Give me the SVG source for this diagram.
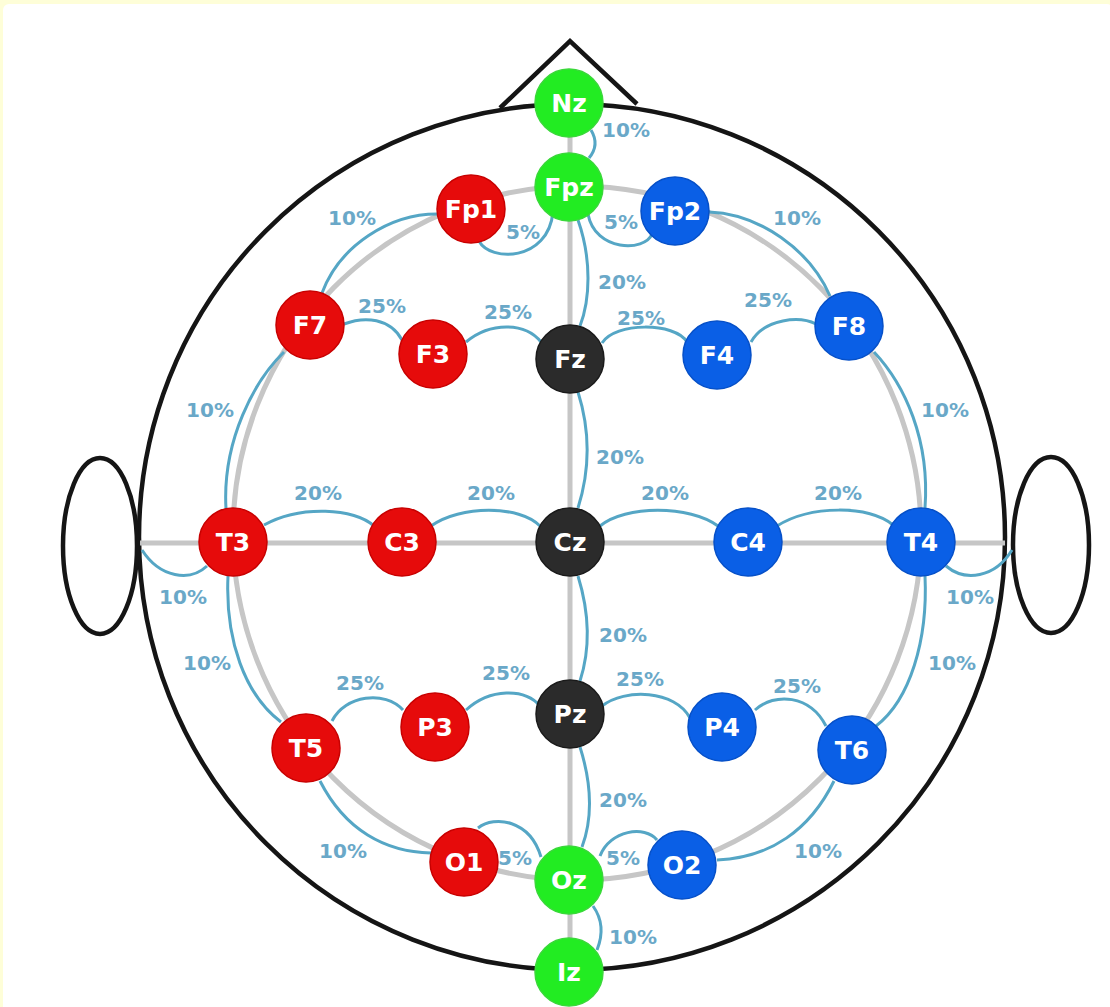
<svg xmlns="http://www.w3.org/2000/svg" width="1110" height="1007" viewBox="0 0 1110 1007">
<style>
.head{fill:none;stroke:#151515;stroke-width:4.5}
.grey{fill:none;stroke:#c6c6c6;stroke-width:5}
.link{fill:none;stroke:#55a6c5;stroke-width:3}
.pct{font-family:"DejaVu Sans",sans-serif;font-weight:bold;font-size:20px;fill:#6aa8c8;text-anchor:middle}
.lbl{font-family:"DejaVu Sans",sans-serif;font-weight:bold;font-size:25px;fill:#ffffff;text-anchor:middle}
.red{fill:#e60b0b;stroke:#c80000;stroke-width:1.5}
.blue{fill:#0a5fe6;stroke:#0650c8;stroke-width:1.5}
.black{fill:#2b2b2b;stroke:#1a1a1a;stroke-width:1.5}
.green{fill:#22ec22;stroke:#3ad83a;stroke-width:1.5}
</style>
<rect x="0" y="0" width="1110" height="1007" fill="#fefed8"/>
<rect x="3" y="4" width="1110" height="1010" rx="6" fill="#ffffff"/>
<g id="head">
<path class="head" d="M500,108 L570,41 L637,104"/>
<circle class="head" cx="572" cy="537" r="433"/>
<ellipse class="head" cx="100" cy="546" rx="37" ry="88"/>
<ellipse class="head" cx="1051" cy="545" rx="38" ry="88"/>
</g>
<g id="connectors">
<ellipse class="grey" cx="577" cy="533" rx="344" ry="347"/>
<path class="grey" d="M140,543 H1005"/>
<path class="grey" d="M570,105 V970"/>
<path class="link" d="M591,130 Q600,145 589,158"/>
<path class="link" d="M553,212 C548,262 490,262 479,241"/>
<path class="link" d="M588,214 C595,252 645,252 652,234"/>
<path class="link" d="M578,220 C592,260 590,300 580,326"/>
<path class="link" d="M578,392 C590,430 590,470 578,508"/>
<path class="link" d="M578,576 C590,615 590,650 580,681"/>
<path class="link" d="M580,747 C592,785 592,820 582,847"/>
<path class="link" d="M593,906 C603,920 603,935 597,950"/>
<path class="link" d="M437,214 C390,214 340,245 322,293"/>
<path class="link" d="M709,212 C760,214 810,250 830,296"/>
<path class="link" d="M284,352 C255,380 222,440 226,509"/>
<path class="link" d="M874,352 C905,385 930,440 925,508"/>
<path class="link" d="M228,576 C225,640 245,695 281,722"/>
<path class="link" d="M925,576 C928,640 910,700 876,726"/>
<path class="link" d="M320,781 C345,830 385,852 431,853"/>
<path class="link" d="M834,781 C810,830 770,858 717,860"/>
<path class="link" d="M207,566 C190,582 160,578 142,550"/>
<path class="link" d="M946,566 C965,582 995,578 1012,550"/>
<path class="link" d="M478,828 C495,815 530,820 541,857"/>
<path class="link" d="M600,856 C610,830 645,825 657,840"/>
<path class="link" d="M344,324 C365,316 390,318 402,340"/>
<path class="link" d="M466,342 C490,322 525,322 541,342"/>
<path class="link" d="M602,343 C615,322 675,322 687,342"/>
<path class="link" d="M751,342 C765,318 800,316 816,324"/>
<path class="link" d="M264,525 C300,505 355,508 374,526"/>
<path class="link" d="M431,526 C460,505 520,505 540,526"/>
<path class="link" d="M600,526 C625,505 690,505 718,526"/>
<path class="link" d="M777,526 C810,505 870,505 893,525"/>
<path class="link" d="M332,721 C345,695 385,690 403,710"/>
<path class="link" d="M466,710 C490,688 525,688 540,706"/>
<path class="link" d="M602,706 C625,688 675,690 690,718"/>
<path class="link" d="M755,710 C775,692 810,695 826,726"/>
</g>
<g id="labels">
<text class="pct" x="626" y="137">10%</text>
<text class="pct" x="523" y="239">5%</text>
<text class="pct" x="621" y="229">5%</text>
<text class="pct" x="352" y="225">10%</text>
<text class="pct" x="797" y="225">10%</text>
<text class="pct" x="622" y="289">20%</text>
<text class="pct" x="382" y="313">25%</text>
<text class="pct" x="508" y="319">25%</text>
<text class="pct" x="641" y="325">25%</text>
<text class="pct" x="768" y="307">25%</text>
<text class="pct" x="210" y="417">10%</text>
<text class="pct" x="945" y="417">10%</text>
<text class="pct" x="620" y="464">20%</text>
<text class="pct" x="318" y="500">20%</text>
<text class="pct" x="491" y="500">20%</text>
<text class="pct" x="665" y="500">20%</text>
<text class="pct" x="838" y="500">20%</text>
<text class="pct" x="183" y="604">10%</text>
<text class="pct" x="970" y="604">10%</text>
<text class="pct" x="623" y="642">20%</text>
<text class="pct" x="207" y="670">10%</text>
<text class="pct" x="952" y="670">10%</text>
<text class="pct" x="360" y="690">25%</text>
<text class="pct" x="506" y="680">25%</text>
<text class="pct" x="640" y="686">25%</text>
<text class="pct" x="797" y="693">25%</text>
<text class="pct" x="623" y="807">20%</text>
<text class="pct" x="343" y="858">10%</text>
<text class="pct" x="818" y="858">10%</text>
<text class="pct" x="515" y="865">5%</text>
<text class="pct" x="623" y="865">5%</text>
<text class="pct" x="633" y="944">10%</text>
</g>
<g id="Nz"><circle class="green" cx="569" cy="103" r="34"/><text class="lbl" x="569" y="112">Nz</text></g>
<g id="Fpz"><circle class="green" cx="569" cy="187" r="34"/><text class="lbl" x="569" y="196">Fpz</text></g>
<g id="Fp1"><circle class="red" cx="471" cy="209" r="34"/><text class="lbl" x="471" y="218">Fp1</text></g>
<g id="Fp2"><circle class="blue" cx="675" cy="211" r="34"/><text class="lbl" x="675" y="220">Fp2</text></g>
<g id="F7"><circle class="red" cx="310" cy="325" r="34"/><text class="lbl" x="310" y="334">F7</text></g>
<g id="F3"><circle class="red" cx="433" cy="354" r="34"/><text class="lbl" x="433" y="363">F3</text></g>
<g id="Fz"><circle class="black" cx="570" cy="359" r="34"/><text class="lbl" x="570" y="368">Fz</text></g>
<g id="F4"><circle class="blue" cx="717" cy="355" r="34"/><text class="lbl" x="717" y="364">F4</text></g>
<g id="F8"><circle class="blue" cx="849" cy="326" r="34"/><text class="lbl" x="849" y="335">F8</text></g>
<g id="T3"><circle class="red" cx="233" cy="542" r="34"/><text class="lbl" x="233" y="551">T3</text></g>
<g id="C3"><circle class="red" cx="402" cy="542" r="34"/><text class="lbl" x="402" y="551">C3</text></g>
<g id="Cz"><circle class="black" cx="570" cy="542" r="34"/><text class="lbl" x="570" y="551">Cz</text></g>
<g id="C4"><circle class="blue" cx="748" cy="542" r="34"/><text class="lbl" x="748" y="551">C4</text></g>
<g id="T4"><circle class="blue" cx="921" cy="542" r="34"/><text class="lbl" x="921" y="551">T4</text></g>
<g id="T5"><circle class="red" cx="306" cy="748" r="34"/><text class="lbl" x="306" y="757">T5</text></g>
<g id="P3"><circle class="red" cx="435" cy="727" r="34"/><text class="lbl" x="435" y="736">P3</text></g>
<g id="Pz"><circle class="black" cx="570" cy="714" r="34"/><text class="lbl" x="570" y="723">Pz</text></g>
<g id="P4"><circle class="blue" cx="722" cy="727" r="34"/><text class="lbl" x="722" y="736">P4</text></g>
<g id="T6"><circle class="blue" cx="852" cy="750" r="34"/><text class="lbl" x="852" y="759">T6</text></g>
<g id="O1"><circle class="red" cx="464" cy="862" r="34"/><text class="lbl" x="464" y="871">O1</text></g>
<g id="Oz"><circle class="green" cx="569" cy="880" r="34"/><text class="lbl" x="569" y="889">Oz</text></g>
<g id="O2"><circle class="blue" cx="682" cy="865" r="34"/><text class="lbl" x="682" y="874">O2</text></g>
<g id="Iz"><circle class="green" cx="569" cy="972" r="34"/><text class="lbl" x="569" y="981">Iz</text></g>
</svg>
